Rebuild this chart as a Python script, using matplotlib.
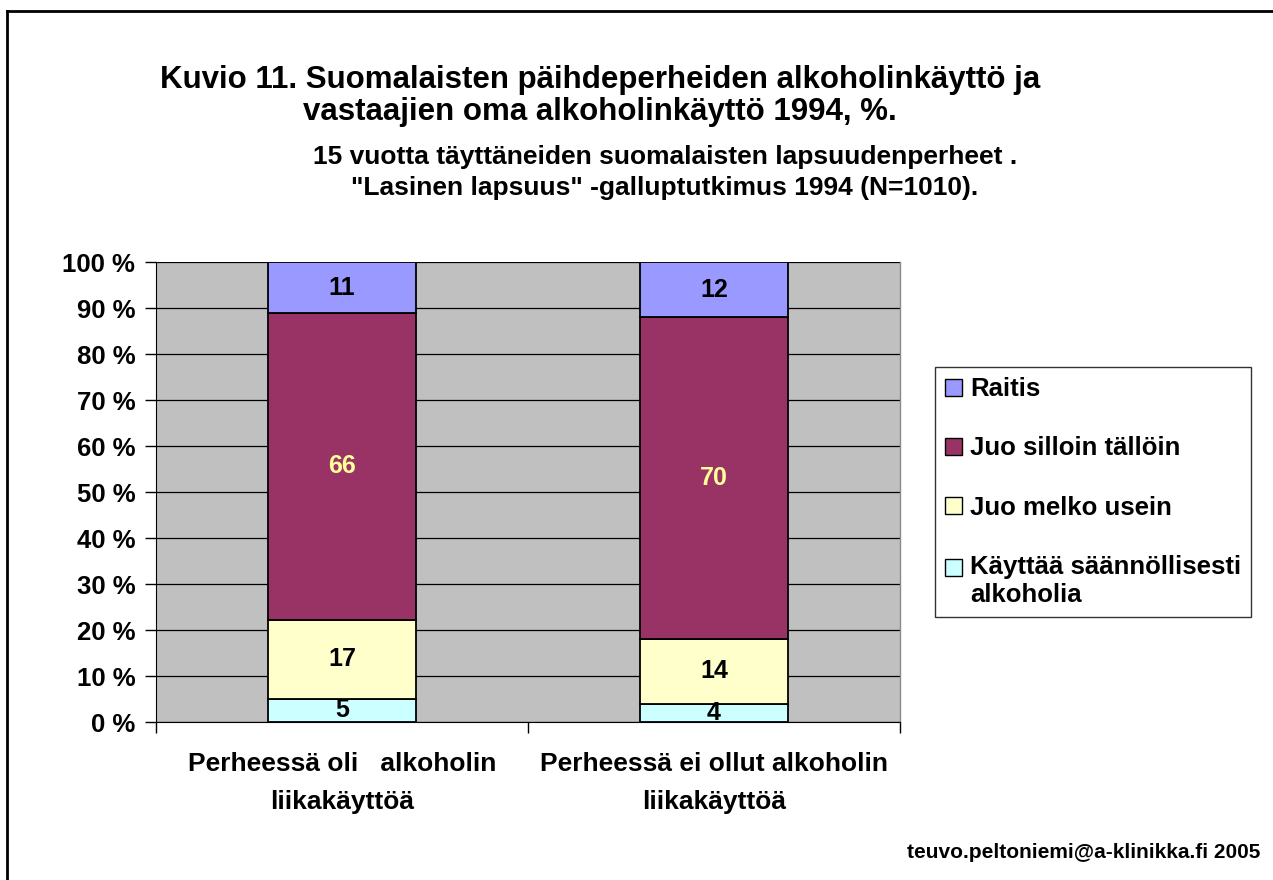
import matplotlib
matplotlib.use("Agg")
import matplotlib.pyplot as plt
from matplotlib.patches import Patch
from matplotlib.lines import Line2D
import numpy as np

categories = ["Perheessä oli   alkoholin\nliikakäyttöä", "Perheessä ei ollut alkoholin\nliikakäyttöä"]
series_names = ["Käyttää säännöllisesti\nalkoholia", "Juo melko usein", "Juo silloin tällöin", "Raitis"]
kayttaa = [5, 4]
juo_melko = [17, 14]
juo_silloin = [66, 70]
raitis = [11, 12]
ytick_labels = ["0 %", "10 %", "20 %", "30 %", "40 %", "50 %", "60 %", "70 %", "80 %", "90 %", "100 %"]
title_lines = ["Kuvio 11. Suomalaisten päihdeperheiden alkoholinkäyttö ja",
               "vastaajien oma alkoholinkäyttö 1994, %."]
subtitle_lines = ["15 vuotta täyttäneiden suomalaisten lapsuudenperheet .",
                  "\"Lasinen lapsuus\" -galluptutkimus 1994 (N=1010)."]
credit = "teuvo.peltoniemi@a-klinikka.fi 2005"

colors = ["#CCFFFF", "#FFFFCC", "#993366", "#9999FF"]
label_colors = ["black", "black", "#FFFF99", "black"]

W, H = 1273, 880
plt.rcParams['font.family'] = ['Liberation Sans', 'DejaVu Sans']
fig = plt.figure(figsize=(W / 100, H / 100), dpi=100)

def fx(px):
    return px / W

def fy(py):
    return 1 - py / H

ax = fig.add_axes([fx(156), fy(722), fx(900) - fx(156), fy(262) - fy(722)])
ax.set_facecolor("#C0C0C0")

data = np.array([kayttaa, juo_melko, juo_silloin, raitis], dtype=float)
totals = data.sum(axis=0)
pct = data / totals * 100
x = np.arange(len(categories))
bottom = np.zeros(len(categories))
for i in range(len(series_names)):
    ax.bar(x, pct[i], 0.4, bottom=bottom, color=colors[i], edgecolor="black",
           linewidth=1.3, zorder=3)
    for j in range(len(categories)):
        ax.text(x[j], bottom[j] + pct[i][j] / 2, f"{int(data[i][j])}", ha="center",
                va="center", fontsize=18, fontweight="bold", color=label_colors[i],
                zorder=4, clip_on=True)
    bottom += pct[i]

ax.set_xlim(-0.5, 1.5)
ax.set_ylim(0, 100)
ax.set_yticks(np.arange(0, 101, 10))
ax.set_yticklabels(ytick_labels, fontsize=18.5, fontweight="bold")
ax.yaxis.grid(True, color="black", linewidth=0.9, zorder=1)
ax.set_axisbelow(True)
ax.set_xticks([-0.5, 0.5, 1.5])
ax.set_xticklabels([])
ax.tick_params(axis="both", direction="out", length=8, width=1, color="black")
ax.tick_params(axis="y", pad=7)
ax.spines["top"].set_visible(False)
ax.spines["right"].set_color("#8a8a8a")
ax.spines["right"].set_linewidth(1)
ax.spines["left"].set_color("black")
ax.spines["bottom"].set_color("black")

for j, c in enumerate(categories):
    for k, line in enumerate(c.split("\n")):
        fig.text(ax.transData.transform((x[j], 0))[0] / W, fy(764 + 38 * k), line,
                 ha="center", va="center", fontsize=19, fontweight="bold")

for k, line in enumerate(title_lines):
    fig.text(fx(600), fy(80 + 32 * k), line, ha="center", va="center",
             fontsize=22.5, fontweight="bold")
for k, line in enumerate(subtitle_lines):
    fig.text(fx(665), fy(157 + 31 * k), line, ha="center", va="center",
             fontsize=19, fontweight="bold")
fig.text(fx(1260), fy(852), credit, ha="right", va="center",
         fontsize=15, fontweight="bold")

handles = [Patch(facecolor=colors[i], edgecolor="black", linewidth=1) for i in [3, 2, 1, 0]]
labels = [series_names[i] for i in [3, 2, 1, 0]]
leg = fig.legend(handles, labels, loc="upper left", bbox_to_anchor=(fx(935), fy(367)),
                 prop={"weight": "bold", "size": 18.5}, frameon=True, fancybox=False,
                 edgecolor="black", handlelength=0.66, handleheight=0.66, handletextpad=0.3,
                 labelspacing=1.37, borderpad=0.4, borderaxespad=0)
leg.get_frame().set_linewidth(1)
# align the two-line entry's swatch with its first text line
last = leg.legend_handles[-1]
last.set_y(last.get_y() + 10)

fig.add_artist(Line2D([fx(7), fx(7)], [fy(11), 0], color="black", linewidth=2))
fig.add_artist(Line2D([fx(7), 1], [fy(11), fy(11)], color="black", linewidth=2))

fig.savefig("out.png", dpi=100)
